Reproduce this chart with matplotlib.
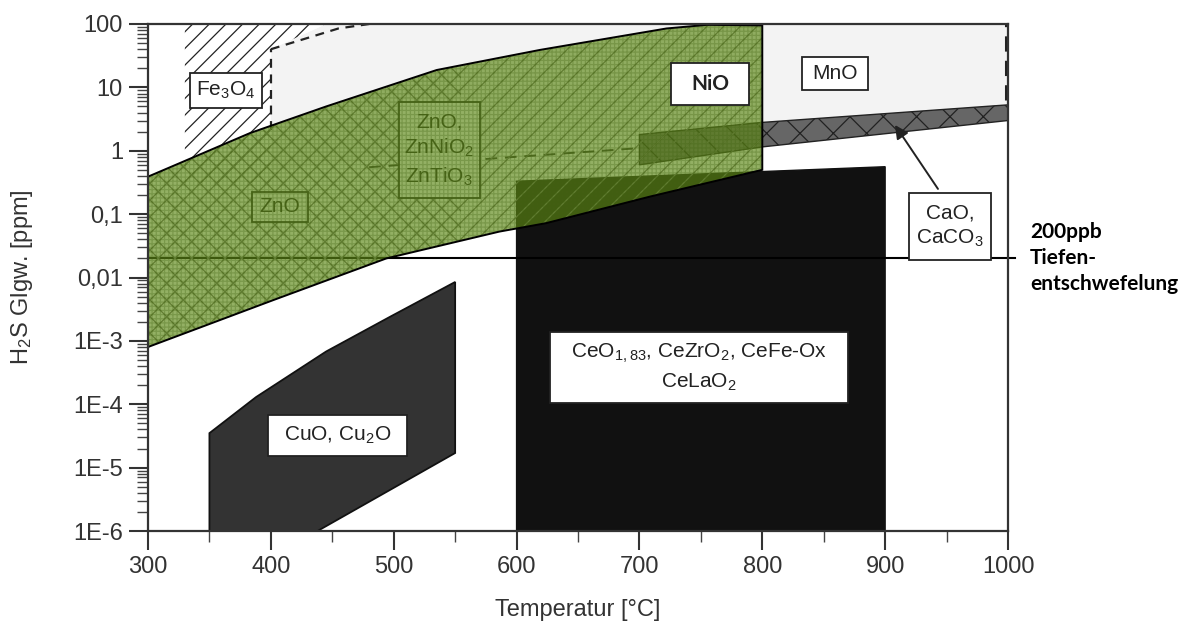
#!/usr/bin/env python3
"""H2S equilibrium ranges of desulfurisation sorbents vs. temperature."""

import matplotlib

matplotlib.use("Agg")
matplotlib.rcParams.update(
    {
        "font.family": ["Liberation Sans", "DejaVu Sans"],
        "mathtext.fontset": "custom",
        "mathtext.rm": "Liberation Sans",
        "mathtext.default": "regular",
        "hatch.linewidth": 0.9,
    }
)
import matplotlib.pyplot as plt
import numpy as np
from matplotlib.patches import Polygon, Rectangle
from matplotlib.ticker import FixedLocator, LogLocator, NullFormatter

# --- data (temperature in degC, H2S in ppm) ---
green_top_x = [300, 383, 445, 535, 619, 722, 755, 800]
green_top_y = [0.39, 1.9, 5.0, 18.8, 39, 85, 97, 95]
green_bot_x = [300, 402, 494, 586, 624, 709, 800]
green_bot_y = [8e-4, 4.4e-3, 0.020, 0.053, 0.072, 0.19, 0.5]

cuo_x = [350, 350, 388, 445, 497, 550, 550, 438]
cuo_y = [1e-6, 3.5e-5, 1.3e-4, 6.8e-4, 2.4e-3, 8.5e-3, 1.7e-5, 1e-6]

ceo_x = [600, 600, 900, 900]
ceo_y = [1e-6, 0.33, 0.56, 1e-6]

cao_x = [700, 800, 1000]
cao_top = [1.8, 2.8, 5.3]
cao_bot = [0.6, 1.15, 3.0]

mno_x = [400, 400, 445, 1000, 1000, 800, 700]
mno_y = [0.5, 40, 100, 100, 5.3, 2.8, 1.8]

fe_x = [330, 330, 445, 400, 400]
fe_y = [0.3, 100, 100, 40, 0.3]

limit_ppm = 0.02  # 200 ppb

x_ticks = [300, 400, 500, 600, 700, 800, 900, 1000]
y_ticks = [1e-6, 1e-5, 1e-4, 1e-3, 0.01, 0.1, 1, 10, 100]
y_tick_labels = ["1E-6", "1E-5", "1E-4", "1E-3", "0,01", "0,1", "1", "10", "100"]

W, H = 1190, 640
fig = plt.figure(figsize=(W / 100, H / 100), dpi=100)
ax = fig.add_axes([148 / W, 1 - 531 / H, (1008 - 148) / W, (531 - 24) / H])
ax.set_yscale("log")
ax.set_xlim(300, 1000)
ax.set_ylim(1e-6, 100)

# background regions from the original chart
ax.add_patch(Polygon(np.column_stack([mno_x, mno_y]), closed=True,
                     fc="#f3f3f3", ec="none", zorder=1))
ax.add_patch(Polygon(np.column_stack([fe_x, fe_y]), closed=True,
                     fc="white", ec="#222", lw=0, hatch="//", zorder=1.5))
ax.plot([400, 400], [2.1, 40], ls=(0, (4, 3)), color="#222", lw=1.6, zorder=1.6)
ax.plot([400, 455, 480], [40, 85, 100], ls=(0, (4, 3)), color="#222", lw=1.6, zorder=1.6)
ax.plot([998, 998], [6.3, 100], ls=(0, (5, 3)), color="#222", lw=2.2, zorder=1.6)
ax.plot([480, 700], [0.55, 1.1], ls=(0, (6, 4)), color="#333", lw=1.4, zorder=1.6)

band = np.column_stack([cao_x + cao_x[::-1], cao_top + cao_bot[::-1]])
ax.add_patch(Polygon(band, closed=True, fc="#666666", ec="#222", lw=1.0,
                     hatch="x", zorder=2))

ax.add_patch(Polygon(np.column_stack([ceo_x, ceo_y]), closed=True,
                     fc="#111111", ec="#111111", lw=1, zorder=2.5))
ax.add_patch(Polygon(np.column_stack([cuo_x, cuo_y]), closed=True,
                     fc="#333333", ec="#111111", lw=1.3, zorder=2.5))

ax.plot([300, 1006], [limit_ppm, limit_ppm], color="black", lw=1.5,
        clip_on=False, zorder=3)


def label_box(x0, x1, y0, y1, text, z, size=15, **kw):
    ax.add_patch(Rectangle((x0, y0), x1 - x0, y1 - y0, fc="white", ec="#222",
                           lw=1.3, zorder=z))
    ax.text((x0 + x1) / 2, np.sqrt(y0 * y1), text, ha="center", va="center",
            fontsize=size, color="#222", zorder=z + 0.1, **kw)


# boxes that sit under the green overlay
label_box(504, 570, 0.178, 5.95, "ZnO,\nZnNiO$_2$\nZnTiO$_3$", 3.2, size=15,
          linespacing=1.35)
label_box(384.5, 430.5, 0.076, 0.226, "ZnO", 3.2, size=15)

# green overlay with the original sorbent texture shining through
green_xy = np.column_stack([green_top_x + green_bot_x[::-1],
                            green_top_y + green_bot_y[::-1]])
green = Polygon(green_xy, closed=True, fc="none", ec="none")
ax.add_patch(green)
zno_tex = ax.axvspan(300, 555, fc="none", ec="#6a6a6a", lw=0, hatch="xx", zorder=3.0)
nio_tex = ax.axvspan(555, 800, fc="none", ec="#6a6a6a", lw=0, hatch="//", zorder=3.0)
for tex in (zno_tex, nio_tex):
    tex.set_clip_path(green)
ax.add_patch(Polygon(green_xy, closed=True, fc=(0.36, 0.53, 0.08, 0.66),
                     ec="none", zorder=4))
grid = Polygon(green_xy, closed=True, fc="none", ec=(0.25, 0.38, 0.06, 0.3),
               lw=0, hatch="++++", zorder=4.1)
ax.add_patch(grid)
ax.add_patch(Polygon(green_xy, closed=True, fc="none", ec="black", lw=1.4, zorder=4.2))

# labels on top
label_box(334, 393, 4.73, 16.9, "Fe$_3$O$_4$", 5, size=15)
label_box(726, 789, 5.28, 24.5, "NiO", 5, size=15, family="Lato", weight="bold")
label_box(832, 886, 9.1, 30, "MnO", 5, size=15)
label_box(919.5, 986, 0.019, 0.216, "CaO,\nCaCO$_3$", 5, size=15, linespacing=1.3)
label_box(627, 870, 1.04e-4, 1.4e-3, "CeO$_{1,83}$, CeZrO$_2$, CeFe-Ox\nCeLaO$_2$", 5,
          size=15, linespacing=1.4)
label_box(398, 510.5, 1.5e-5, 6.8e-5, "CuO, Cu$_2$O", 5, size=15)

ax.annotate("", xy=(908, 2.55), xytext=(943, 0.25),
            arrowprops=dict(arrowstyle="-|>", color="#222", lw=1.4,
                            mutation_scale=20, shrinkA=0, shrinkB=0),
            zorder=6)

# axes styling
for spine in ax.spines.values():
    spine.set_color("#333")
    spine.set_linewidth(1.6)
    spine.set_zorder(7)
ax.xaxis.set_major_locator(FixedLocator(x_ticks))
ax.xaxis.set_minor_locator(FixedLocator([x + 50 for x in x_ticks[:-1]]))
ax.yaxis.set_major_locator(FixedLocator(y_ticks))
ax.set_yticklabels(y_tick_labels)
ax.yaxis.set_minor_locator(LogLocator(base=10, subs=np.arange(2, 10), numticks=20))
ax.yaxis.set_minor_formatter(NullFormatter())
ax.tick_params(which="major", direction="out", length=14, width=1.5, color="#333",
               labelsize=17, labelcolor="#333", pad=4)
ax.tick_params(which="minor", direction="out", length=8, width=1.0, color="#444")

fig.text(578 / W, 1 - 610 / H, "Temperatur [°C]", ha="center", va="center",
         fontsize=17, color="#333")
fig.text(22 / W, 1 - 277 / H, "H$_2$S Glgw. [ppm]", ha="center", va="center",
         rotation=90, fontsize=17, color="#333")
fig.text(1030 / W, 1 - 258 / H, "200ppb\nTiefen-\nentschwefelung", ha="left",
         va="center", fontsize=15, weight="bold", family="Lato", linespacing=1.4)

fig.savefig("out.png", dpi=100)
